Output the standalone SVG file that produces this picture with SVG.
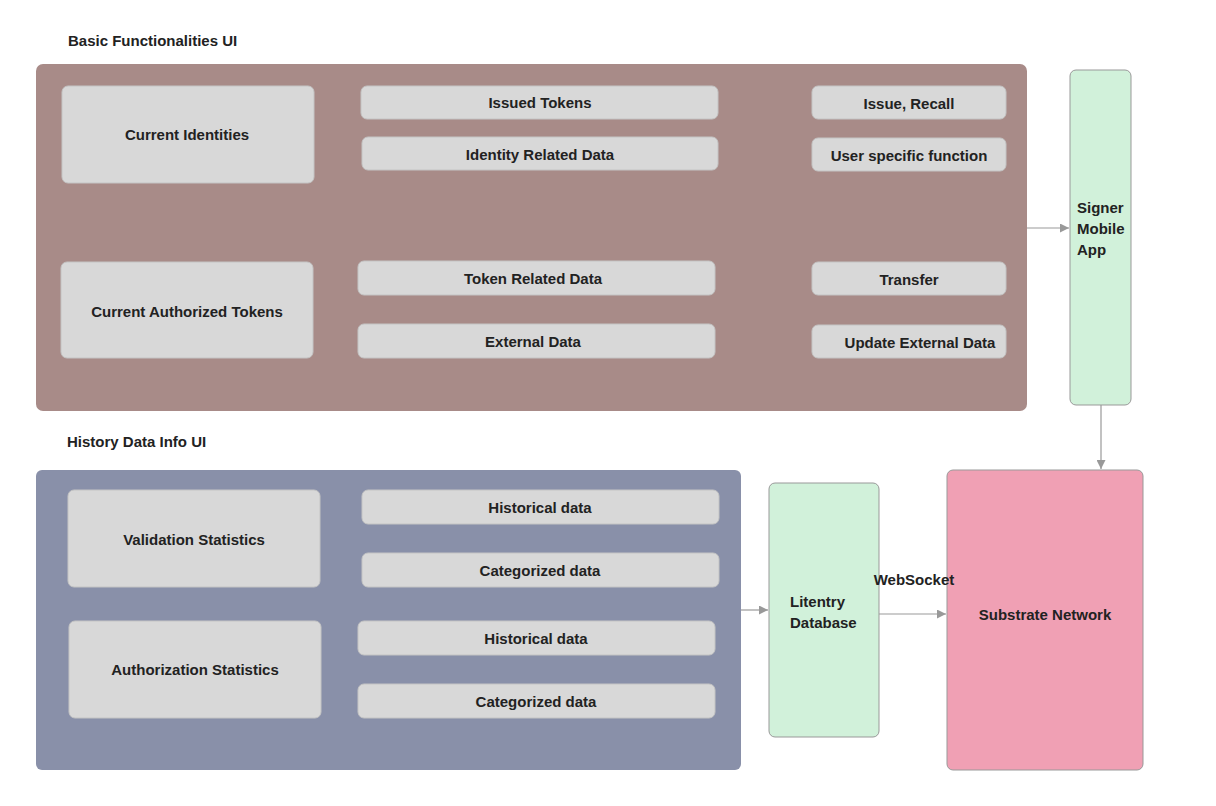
<svg xmlns="http://www.w3.org/2000/svg" width="1216" height="806" viewBox="0 0 1216 806">
<defs>
<style>
text{font-family:"Liberation Sans",Arial,sans-serif;font-weight:bold;font-size:15px;fill:#222}
.c{text-anchor:middle;dominant-baseline:central}
.box{fill:#d8d8d8;stroke:#c4c4c4;stroke-width:1}
.green{fill:#d1f1da;stroke:#999;stroke-width:1}
.edge{stroke:#999;stroke-width:1.2;fill:none}
</style>
<marker id="ah" viewBox="0 0 10 10" refX="10" refY="5" markerWidth="9" markerHeight="9" orient="auto" markerUnits="userSpaceOnUse"><path d="M0,0 L10,5 L0,10 z" fill="#999"/></marker>
</defs>
<rect width="1216" height="806" fill="#fff"/>
<g id="basic-ui">
<text x="68" y="40" dominant-baseline="central">Basic Functionalities UI</text>
<rect x="36" y="64" width="991" height="347" rx="7" fill="#a88b88"/>
</g>
<g id="current-identities"><rect class="box" x="62" y="86" width="252" height="97" rx="6"/><text class="c" x="187" y="134">Current Identities</text></g>
<g id="issued-tokens"><rect class="box" x="361" y="86" width="357" height="33" rx="6"/><text class="c" x="540" y="102">Issued Tokens</text></g>
<g id="identity-related"><rect class="box" x="362" y="137" width="356" height="33" rx="6"/><text class="c" x="540" y="154">Identity Related Data</text></g>
<g id="issue-recall"><rect class="box" x="812" y="86" width="194" height="33" rx="6"/><text class="c" x="909" y="103">Issue, Recall</text></g>
<g id="user-specific"><rect class="box" x="812" y="138" width="194" height="33" rx="6"/><text class="c" x="909" y="155">User specific function</text></g>
<g id="current-authorized"><rect class="box" x="61" y="262" width="252" height="96" rx="6"/><text class="c" x="187" y="311">Current Authorized Tokens</text></g>
<g id="token-related"><rect class="box" x="358" y="261" width="357" height="34" rx="6"/><text class="c" x="533" y="278">Token Related Data</text></g>
<g id="external-data"><rect class="box" x="358" y="324" width="357" height="34" rx="6"/><text class="c" x="533" y="341">External Data</text></g>
<g id="transfer"><rect class="box" x="812" y="262" width="194" height="33" rx="6"/><text class="c" x="909" y="279">Transfer</text></g>
<g id="update-external"><rect class="box" x="812" y="325" width="194" height="33" rx="6"/><text class="c" x="920" y="342">Update External Data</text></g>
<g id="signer-app"><rect class="green" x="1070" y="70" width="61" height="335" rx="6"/>
<text x="1077" y="207" dominant-baseline="central">Signer</text>
<text x="1077" y="228" dominant-baseline="central">Mobile</text>
<text x="1077" y="249" dominant-baseline="central">App</text></g>
<g id="history-ui">
<text x="67" y="441" dominant-baseline="central">History Data Info UI</text>
<rect x="36" y="470" width="705" height="300" rx="6" fill="#8990a9"/>
</g>
<g id="validation-stats"><rect class="box" x="68" y="490" width="252" height="97" rx="6"/><text class="c" x="194" y="539">Validation Statistics</text></g>
<g id="historical-1"><rect class="box" x="362" y="490" width="357" height="34" rx="6"/><text class="c" x="540" y="507">Historical data</text></g>
<g id="categorized-1"><rect class="box" x="362" y="553" width="357" height="34" rx="6"/><text class="c" x="540" y="570">Categorized data</text></g>
<g id="authorization-stats"><rect class="box" x="69" y="621" width="252" height="97" rx="6"/><text class="c" x="195" y="669">Authorization Statistics</text></g>
<g id="historical-2"><rect class="box" x="358" y="621" width="357" height="34" rx="6"/><text class="c" x="536" y="638">Historical data</text></g>
<g id="categorized-2"><rect class="box" x="358" y="684" width="357" height="34" rx="6"/><text class="c" x="536" y="701">Categorized data</text></g>
<g id="litentry-db"><rect class="green" x="769" y="483" width="110" height="254" rx="6"/>
<text x="790" y="601" dominant-baseline="central">Litentry</text>
<text x="790" y="622" dominant-baseline="central">Database</text></g>
<g id="substrate"><rect x="947" y="470" width="196" height="300" rx="6" fill="#f0a0b4" stroke="#999" stroke-width="1"/><text class="c" x="1045" y="614">Substrate Network</text></g>
<g id="connectors">
<line class="edge" x1="1027" y1="228" x2="1069" y2="228" marker-end="url(#ah)"/>
<line class="edge" x1="1101" y1="405" x2="1101" y2="469" marker-end="url(#ah)"/>
<line class="edge" x1="741" y1="610" x2="768" y2="610" marker-end="url(#ah)"/>
<line class="edge" x1="879" y1="614" x2="946" y2="614" marker-end="url(#ah)"/>
<text class="c" x="914" y="579">WebSocket</text>
</g>
</svg>
